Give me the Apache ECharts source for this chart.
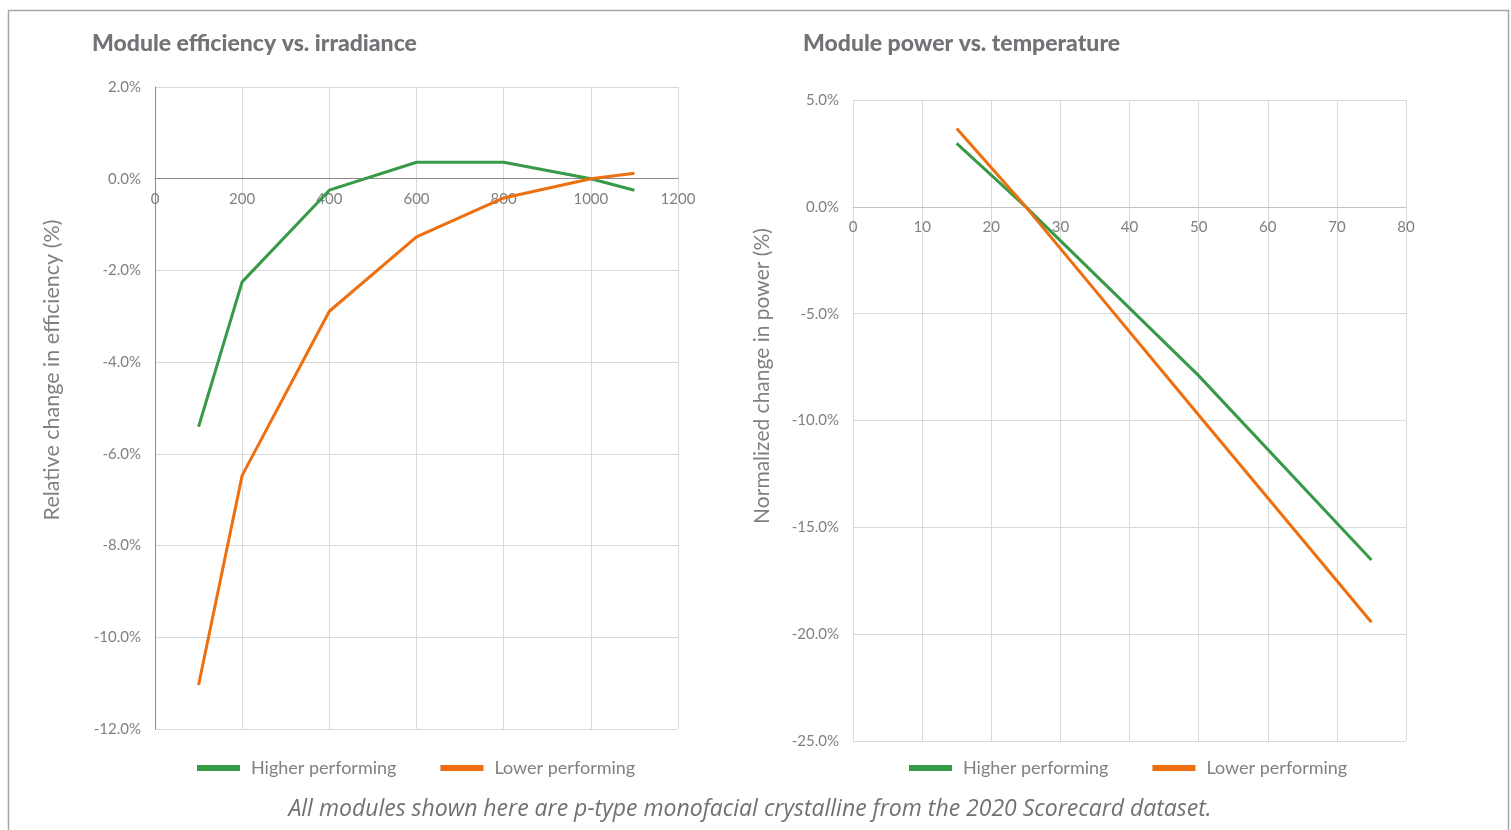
<!DOCTYPE html>
<html>
<head>
<meta charset="utf-8">
<script src="https://cdn.jsdelivr.net/npm/echarts@6/dist/echarts.min.js"></script>
<style>
html,body{margin:0;padding:0;background:#fff;}
#c{width:1511px;height:830px;}
</style>
</head>
<body>
<div id="c"></div>
<script>
// Left chart: irradiance (W/m²) vs relative change in efficiency (%)
const irradiance = [100, 200, 400, 600, 800, 1000, 1100];
const effHigher = [-5.41, -2.25, -0.25, 0.36, 0.36, 0.0, -0.25];
const effLower = [-11.04, -6.47, -2.89, -1.27, -0.42, 0.0, 0.12];

// Right chart: temperature (°C) vs normalized change in power (%)
const temperature = [15, 25, 50, 75];
const powHigher = [2.97, 0.0, -7.9, -16.53];
const powLower = [3.67, 0.0, -9.74, -19.44];

const seriesNames = ['Higher performing', 'Lower performing'];
const titles = ['Module efficiency vs. irradiance', 'Module power vs. temperature'];
const yTitles = ['Relative change in efficiency (%)', 'Normalized change in power (%)'];
const footnote = 'All modules shown here are p-type monofacial crystalline from the 2020 Scorecard dataset.';

const GREEN = '#379a47';
const ORANGE = '#ee6f10';
const TXT = '#808080';
const GRID = '#d9d9d9';
const FONT = 'Lato, "Open Sans", sans-serif';

const pairs = (xs, ys) => xs.map((x, i) => [x, ys[i]]);
const pct = v => v.toFixed(1) + '%';

// layout of the two plot areas
const G1 = {left: 155, top: 87, width: 523, height: 642};
const G2 = {left: 853, top: 100, width: 553, height: 641};
const Y1 = {min: -12, max: 2, interval: 2};
const Y2 = {min: -25, max: 5, interval: 5};
// move the x axes (line + labels) up to the y = 0 position
const zeroOffset = (g, y) => -g.height * (0 - y.min) / (y.max - y.min);

const chart = echarts.init(document.getElementById('c'), null, {renderer: 'canvas'});

const axisLabel = {color: TXT, fontSize: 15, fontFamily: FONT};

const option = {
  animation: false,
  backgroundColor: '#fff',
  textStyle: {fontFamily: FONT},
  grid: [G1, G2],
  xAxis: [
    {
      gridIndex: 0, type: 'value', min: 0, max: 1200, interval: 200,
      position: 'bottom', offset: zeroOffset(G1, Y1),
      axisLine: {onZero: false, lineStyle: {color: '#8a8a8a', width: 1}},
      axisTick: {show: false},
      axisLabel: Object.assign({margin: 13, formatter: v => String(v)}, axisLabel),
      splitLine: {show: true, lineStyle: {color: GRID, width: 1}}
    },
    {
      gridIndex: 1, type: 'value', min: 0, max: 80, interval: 10,
      position: 'bottom', offset: zeroOffset(G2, Y2),
      axisLine: {onZero: false, lineStyle: {color: '#c4c4c4', width: 1}},
      axisTick: {show: false},
      axisLabel: Object.assign({margin: 13, formatter: v => String(v)}, axisLabel),
      splitLine: {show: true, lineStyle: {color: GRID, width: 1}}
    }
  ],
  yAxis: [
    Object.assign({
      gridIndex: 0, type: 'value',
      axisLine: {show: true, onZero: false, lineStyle: {color: '#8a8a8a', width: 1}},
      axisTick: {show: false},
      axisLabel: Object.assign({margin: 14, formatter: pct}, axisLabel),
      splitLine: {show: true, lineStyle: {color: GRID, width: 1}}
    }, Y1),
    Object.assign({
      gridIndex: 1, type: 'value',
      axisLine: {show: true, onZero: false, lineStyle: {color: GRID, width: 1}},
      axisTick: {show: false},
      axisLabel: Object.assign({margin: 14, formatter: pct}, axisLabel),
      splitLine: {show: true, lineStyle: {color: GRID, width: 1}}
    }, Y2)
  ],
  legend: [
    {
      left: 197, top: 759, padding: 0, icon: 'rect', itemWidth: 43, itemHeight: 6, itemGap: 44,
      data: seriesNames,
      textStyle: {color: TXT, fontSize: 18, fontFamily: FONT, padding: [0, 0, 0, 6]}
    },
    {
      left: 909, top: 759, padding: 0, icon: 'rect', itemWidth: 43, itemHeight: 6, itemGap: 44,
      data: seriesNames,
      textStyle: {color: TXT, fontSize: 18, fontFamily: FONT, padding: [0, 0, 0, 6]}
    }
  ],
  series: [
    {name: seriesNames[0], type: 'line', xAxisIndex: 0, yAxisIndex: 0, data: pairs(irradiance, effHigher),
     showSymbol: false, symbol: 'none', color: GREEN, lineStyle: {color: GREEN, width: 3}, z: 3},
    {name: seriesNames[1], type: 'line', xAxisIndex: 0, yAxisIndex: 0, data: pairs(irradiance, effLower),
     showSymbol: false, symbol: 'none', color: ORANGE, lineStyle: {color: ORANGE, width: 3}, z: 4},
    {name: seriesNames[0], type: 'line', xAxisIndex: 1, yAxisIndex: 1, data: pairs(temperature, powHigher),
     showSymbol: false, symbol: 'none', color: GREEN, lineStyle: {color: GREEN, width: 3}, z: 3},
    {name: seriesNames[1], type: 'line', xAxisIndex: 1, yAxisIndex: 1, data: pairs(temperature, powLower),
     showSymbol: false, symbol: 'none', color: ORANGE, lineStyle: {color: ORANGE, width: 3}, z: 4}
  ],
  graphic: [
    {type: 'rect', left: 6, top: 8, shape: {width: 1500, height: 840}, silent: true,
     style: {fill: 'none', stroke: '#a6a6a6', lineWidth: 1.5}, z: -10},
    {type: 'text', x: 92, y: 44, silent: true,
     style: {text: titles[0], fill: '#727377', font: '900 23px ' + FONT, textAlign: 'left', textVerticalAlign: 'middle'}},
    {type: 'text', x: 803, y: 44, silent: true,
     style: {text: titles[1], fill: '#727377', font: '900 23px ' + FONT, textAlign: 'left', textVerticalAlign: 'middle'}},
    {type: 'text', x: 52, y: 370, rotation: Math.PI / 2, silent: true,
     style: {text: yTitles[0], fill: TXT, font: '21.5px ' + FONT, textAlign: 'center', textVerticalAlign: 'middle'}},
    {type: 'text', x: 762, y: 376, rotation: Math.PI / 2, silent: true,
     style: {text: yTitles[1], fill: TXT, font: '21px ' + FONT, textAlign: 'center', textVerticalAlign: 'middle'}},
    {type: 'text', x: 750, y: 809, silent: true,
     style: {text: footnote, fill: '#707174', font: 'italic 23px "Open Sans", Lato, sans-serif', textAlign: 'center', textVerticalAlign: 'middle'}}
  ]
};
chart.setOption(option);
</script>
</body>
</html>
